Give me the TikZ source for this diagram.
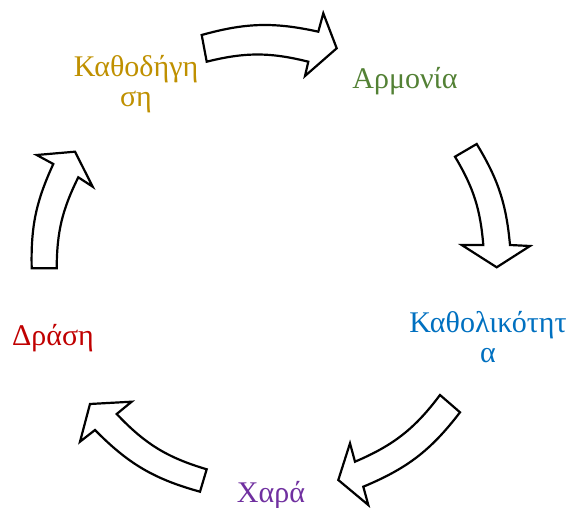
\documentclass[tikz,border=0pt]{standalone}
\usepackage{fontspec}
\setmainfont{Liberation Serif}
\definecolor{cgold}{HTML}{BF9000}
\definecolor{cgreen}{HTML}{538135}
\definecolor{cblue}{HTML}{0070C0}
\definecolor{cpurple}{HTML}{7030A0}
\definecolor{cred}{HTML}{C00000}
\begin{document}
\begin{tikzpicture}[x=1pt,y=1pt,
  blockarrow/.style={draw=black,fill=white,line width=2.2pt,line join=miter},
  lbl/.style={font=\fontsize{30}{30}\selectfont,align=center,inner sep=0pt}]
\path[use as bounding box] (0,0) rectangle (568,508);
% arrows
\draw[blockarrow] (201.7,473) to[bend left=14] (318.3,476.3) -- (323.3,494.7) -- (336.7,459.7) -- (305,432) -- (308.3,446.3) to[bend right=14] (206.7,446.3) -- cycle;
\draw[blockarrow] (476.7,364) to[bend left=13] (510,263) -- (530,262) -- (496.7,240.7) -- (461.7,263) -- (483.3,263) to[bend right=13] (455,351.3) -- cycle;
\draw[blockarrow] (460,95.7) to[bend left=15] (363.3,21.3) -- (368.3,3) -- (338.3,28) -- (350,64.7) -- (355,46.3) to[bend right=15] (440,113) -- cycle;
\draw[blockarrow] (200,16.3) to[bend left=15] (95,78) -- (80,66.3) -- (90,104) -- (131.7,106.3) -- (116.7,94) to[bend right=15] (206.7,38.7) -- cycle;
\draw[blockarrow] (31.7,239.7) to[bend left=13] (53.3,344) -- (36.7,353) -- (75,356.3) -- (92.7,321.3) -- (78.3,330.7) to[bend right=13] (56.7,239.7) -- cycle;
% labels
\node[lbl,text=cgold] (guide) at (136,424) {Καθοδήγη\\ση};
\node[lbl,text=cgreen] (harmony) at (405,427) {Αρμονία};
\node[lbl,text=cblue] (univ) at (488,171) {Καθολικότητ\\α};
\node[lbl,text=cpurple] (joy) at (271,13) {Χαρά};
\node[lbl,text=cred] (action) at (53,170) {Δράση};
\end{tikzpicture}
\end{document}
